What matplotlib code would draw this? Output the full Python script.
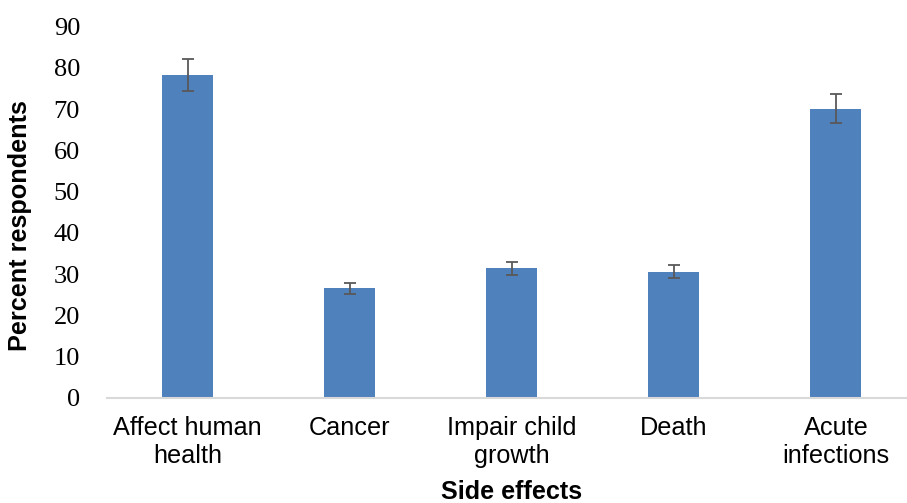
import numpy as np
import matplotlib
matplotlib.use('Agg')
from matplotlib import pyplot as plt

categories = ['Affect human\nhealth', 'Cancer', 'Impair child\ngrowth', 'Death', 'Acute\ninfections']
percent = [78.2, 26.6, 31.4, 30.6, 70.1]
errors = [3.9, 1.35, 1.5, 1.55, 3.5]
yticks = list(range(0, 91, 10))

W, H = 907, 503
fig = plt.figure(figsize=(W / 100, H / 100), dpi=100)
# axes placed in pixel coords (left, bottom, width, height)
left, right, top, bottom = 106.5, 917, 26.7, 398
ax = fig.add_axes([left / W, 1 - bottom / H, (right - left) / W, (bottom - top) / H])

x = np.arange(len(categories))
ax.bar(x, percent, width=0.315, color='#4F81BD', zorder=2)
ax.errorbar(x, percent, yerr=errors, fmt='none', ecolor='#595959',
            elinewidth=1.3, capsize=4.4, capthick=1.3, zorder=3)

ax.set_xlim(-0.5, len(categories) - 0.5)
ax.set_ylim(0, 90)
ax.set_yticks(yticks)
ax.set_yticklabels([str(t) for t in yticks], family='Liberation Serif', fontsize=19)
ax.set_xticks(x)
ax.set_xticklabels(categories, family='Liberation Sans', fontsize=18.2, linespacing=1.22)
ax.tick_params(axis='y', length=0, pad=19)
ax.tick_params(axis='x', length=0, pad=13)

for s in ['top', 'right', 'left']:
    ax.spines[s].set_visible(False)
ax.spines['bottom'].set_color('#D9D9D9')
ax.spines['bottom'].set_linewidth(1.5)
ax.spines['bottom'].set_clip_on(False)

fig.text(20 / W, 1 - 226 / H, 'Percent respondents', rotation=90, ha='center', va='center',
         family='Liberation Sans', fontweight='bold', fontsize=18.2)
fig.text(512 / W, 1 - 499 / H, 'Side effects', ha='center', va='baseline',
         family='Liberation Sans', fontweight='bold', fontsize=18.2)

fig.savefig('out.png', dpi=100)
